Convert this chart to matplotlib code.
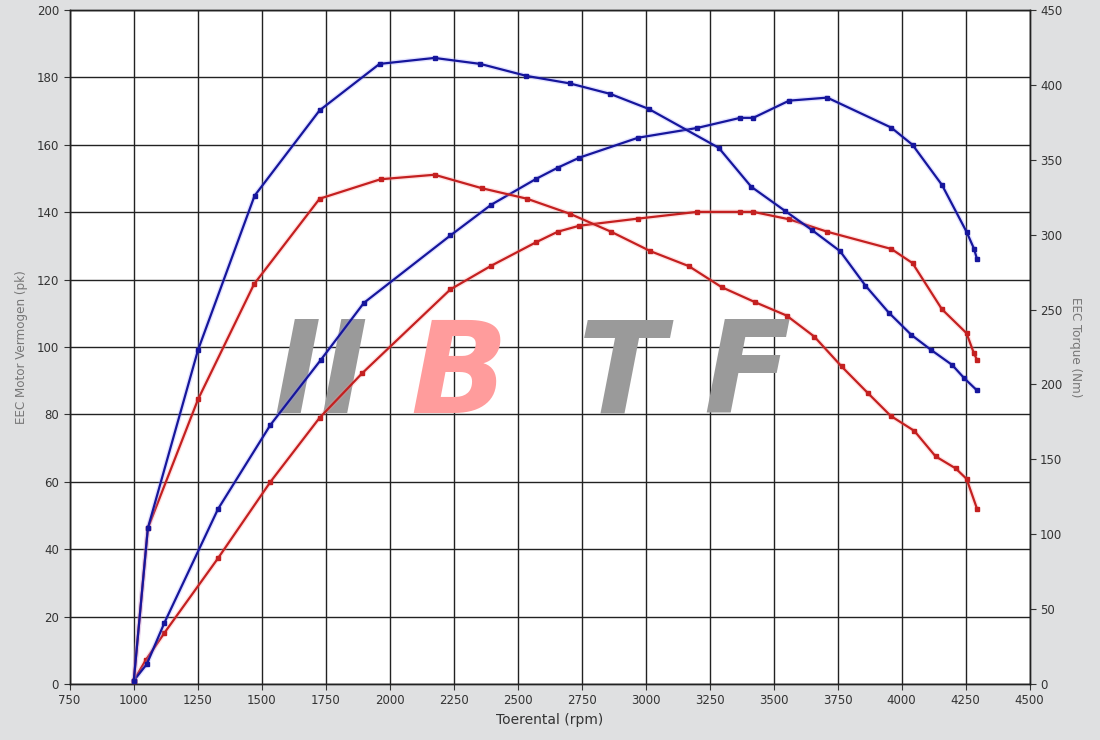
import matplotlib
matplotlib.use("Agg")
import matplotlib.pyplot as plt
import matplotlib.patheffects as pe

# ---- data ----
rpm_torque_blue = [1001, 1056, 1252, 1473, 1727, 1961, 2176, 2355, 2535, 2704, 2862, 3012,
                   3286, 3413, 3544, 3651, 3760, 3859, 3950, 4039, 4116, 4198, 4246, 4295]
torque_blue = [2, 104, 223, 326, 383, 414, 418, 414, 406, 401, 394, 384,
               358, 332, 316, 303, 289, 266, 248, 233, 223, 213, 204, 196]

rpm_torque_red = [1001, 1056, 1252, 1471, 1727, 1965, 2176, 2361, 2537, 2704, 2865, 3019,
                  3169, 3297, 3427, 3551, 3659, 3766, 3870, 3958, 4050, 4133, 4211, 4254, 4295]
torque_red = [2, 104, 190, 267, 324, 337, 340, 331, 324, 314, 302, 289,
              279, 265, 255, 246, 232, 212, 194, 179, 169, 152, 144, 137, 117]

rpm_power_blue = [1001, 1052, 1121, 1330, 1535, 1731, 1900, 2238, 2397, 2573, 2657, 2742,
                  2971, 3202, 3370, 3421, 3561, 3710, 3960, 4043, 4158, 4254, 4283, 4295]
power_blue = [1, 5.9, 18.2, 51.9, 76.9, 96.1, 113.1, 133.1, 142.2, 149.9, 153.2, 156.2,
              162.1, 165, 168, 168, 173.1, 174, 165.1, 160, 148.1, 134.2, 129.2, 126.1]

rpm_power_red = [1001, 1048, 1121, 1330, 1535, 1727, 1893, 2238, 2397, 2573, 2657, 2742,
                 2971, 3202, 3370, 3421, 3561, 3710, 3960, 4043, 4158, 4254, 4283, 4295]
power_red = [1, 7.1, 15.2, 37.3, 60, 79, 92.2, 117.1, 124.1, 131.1, 134.2, 136,
             138.1, 140.1, 140.1, 140.1, 137.9, 134.2, 129.1, 124.9, 111.2, 104.1, 98.1, 96.2]

x_ticks = list(range(750, 4501, 250))
left_ticks = list(range(0, 201, 20))
right_ticks = list(range(0, 451, 50))

BLUE = "#16169c"
RED = "#c42020"
BG = "#dfe0e1"
TXT = "#333333"

fig = plt.figure(figsize=(11, 7.4), dpi=100, facecolor=BG)
ax = fig.add_axes([69.5 / 1100, 1 - 684 / 740, 960 / 1100, 674 / 740])
ax.set_facecolor("white")
ax2 = ax.twinx()

ax.set_xlim(750, 4500)
ax.set_ylim(0, 200)
ax2.set_ylim(0, 450)
ax.set_xticks(x_ticks)
ax.set_yticks(left_ticks)
ax2.set_yticks(right_ticks)

ax.grid(True, color="#222222", linewidth=1.0)
ax.set_axisbelow(True)

for a in (ax, ax2):
    a.tick_params(direction="out", length=4, width=0.8, colors="#333333",
                  labelsize=8.5, labelcolor=TXT)
    for s in a.spines.values():
        s.set_color("#222222")
        s.set_linewidth(1.0)

ax.set_xlabel("Toerental (rpm)", fontsize=10, color=TXT, labelpad=4)
ax.set_ylabel("EEC Motor Vermogen (pk)", fontsize=9.5, color="#777777",
              fontstretch="condensed", labelpad=6)
ax2.set_ylabel("EEC Torque (Nm)", fontsize=9.5, color="#777777",
               fontstretch="condensed", rotation=270, labelpad=14)

# watermark
wm_kw = dict(transform=ax.transAxes, fontsize=92, fontweight="bold", style="italic",
             va="center", ha="left", zorder=1)
ax.text(0.212, 0.455, "II", color="#9a9a9a", **wm_kw)
ax.text(0.355, 0.455, "B", color="#ff9c9c", **wm_kw)
ax.text(0.530, 0.455, "T", color="#9a9a9a", **wm_kw)
ax.text(0.660, 0.455, "F", color="#9a9a9a", **wm_kw)

glow_b = [pe.Stroke(linewidth=3.5, foreground="#9090ff", alpha=0.25), pe.Normal()]
glow_r = [pe.Stroke(linewidth=3.5, foreground="#ff9090", alpha=0.25), pe.Normal()]

series = [
    (ax, rpm_power_red, power_red, RED, glow_r, 3),
    (ax, rpm_power_blue, power_blue, BLUE, glow_b, 4),
    (ax2, rpm_torque_red, torque_red, RED, glow_r, 3),
    (ax2, rpm_torque_blue, torque_blue, BLUE, glow_b, 4),
]
for a, xs, ys, c, g, z in series:
    a.plot(xs, ys, color=c, lw=1.6, path_effects=g, zorder=z)
    a.plot(xs, ys, color=c, lw=0, marker="s", ms=3.0, zorder=z + 0.5)

fig.savefig("out.png", dpi=100, facecolor=BG)
